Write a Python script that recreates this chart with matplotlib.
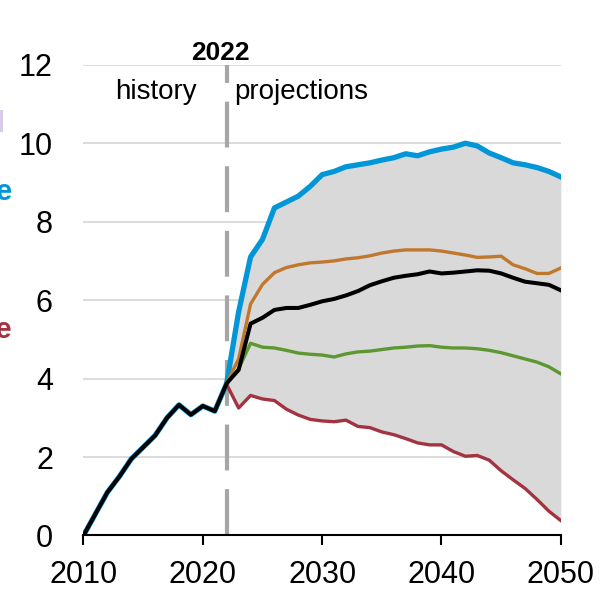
import numpy as np
import matplotlib.pyplot as plt
from matplotlib.patches import Rectangle

plt.rcParams['font.family'] = ['Liberation Sans', 'DejaVu Sans']

# history (also the start of every case)
hist_years = list(range(2010, 2023))
hist_vals = [0.0, 0.55, 1.1, 1.5, 1.95, 2.25, 2.55, 3.0, 3.33, 3.08, 3.3, 3.17, 3.88]

proj_years = list(range(2022, 2051))
high_case = [3.9, 5.7, 7.1, 7.55, 8.35, 8.5, 8.65, 8.9, 9.2, 9.28, 9.4, 9.45, 9.5, 9.57,
             9.63, 9.73, 9.68, 9.78, 9.85, 9.9, 10.0, 9.93, 9.75, 9.63, 9.5, 9.45, 9.38,
             9.28, 9.14]
orange_case = [3.9, 4.5, 5.9, 6.4, 6.7, 6.83, 6.9, 6.95, 6.97, 7.0, 7.05, 7.08, 7.13, 7.2,
               7.25, 7.28, 7.28, 7.28, 7.25, 7.2, 7.15, 7.09, 7.1, 7.12, 6.9, 6.8, 6.68,
               6.68, 6.82]
reference = [3.88, 4.22, 5.4, 5.55, 5.75, 5.8, 5.8, 5.88, 5.97, 6.03, 6.12, 6.23, 6.38, 6.48,
             6.57, 6.62, 6.66, 6.73, 6.68, 6.7, 6.73, 6.76, 6.75, 6.68, 6.57, 6.47, 6.43,
             6.39, 6.25]
green_case = [3.9, 4.25, 4.9, 4.8, 4.78, 4.72, 4.65, 4.62, 4.6, 4.55, 4.63, 4.68, 4.7, 4.74,
              4.78, 4.8, 4.83, 4.84, 4.8, 4.78, 4.78, 4.76, 4.72, 4.66, 4.58, 4.5, 4.42,
              4.3, 4.12]
low_case = [3.85, 3.25, 3.57, 3.48, 3.44, 3.22, 3.07, 2.96, 2.92, 2.9, 2.94, 2.78, 2.75, 2.64,
            2.57, 2.47, 2.36, 2.31, 2.31, 2.14, 2.02, 2.04, 1.92, 1.65, 1.42, 1.2, 0.92,
            0.62, 0.38]

blue = '#0096d7'
orange = '#c0782e'
green = '#5d9732'
red = '#a33340'

fig = plt.figure(figsize=(6.05, 5.94), dpi=100)
ax = fig.add_axes([0.138, 0.0985, 0.789, 0.7925])

# shaded range of projections
ax.fill_between(proj_years, low_case, high_case, color='#d9d9d9', lw=0, zorder=1)

ax.plot(hist_years + proj_years[1:], hist_vals + high_case[1:], color=blue, lw=3.8, zorder=3,
        solid_joinstyle='round')
ax.plot(proj_years, orange_case, color=orange, lw=2.4, zorder=3)
ax.plot(proj_years, green_case, color=green, lw=2.4, zorder=3)
ax.plot(proj_years, low_case, color=red, lw=2.4, zorder=3)
ax.plot(hist_years + proj_years[1:], hist_vals + reference[1:], color='black', lw=2.9,
        zorder=4)

# history / projections divider
ax.axvline(2022, color='#a6a6a6', lw=3, dashes=(11, 4.5), zorder=2)
ax.text(2021.5, 12.0, '2022', ha='center', va='bottom', fontsize=19, fontweight='bold')
ax.text(2019.5, 11.3, 'history', ha='right', va='center', fontsize=20)
ax.text(2022.6, 11.3, 'projections', ha='left', va='center', fontsize=20)

ax.set_xlim(2010, 2050)
ax.set_ylim(0, 12)
ax.set_xticks([2010, 2020, 2030, 2040, 2050])
ax.set_yticks(range(0, 13, 2))
ax.yaxis.grid(True, color='#d9d9d9', lw=1.3, zorder=0)
ax.set_axisbelow(True)
for s in ['left', 'right', 'top']:
    ax.spines[s].set_visible(False)
ax.spines['bottom'].set_linewidth(1.5)
ax.spines['bottom'].set_zorder(5)
ax.tick_params(axis='x', length=7, width=1.5, labelsize=22, pad=11)
ax.tick_params(axis='y', length=0, labelsize=22, pad=22)

# labels of a legend that sits left of the crop
fig.text(12 / 605, 1 - 192 / 594, 'High Oil Price', color=blue, fontsize=21,
         fontweight='bold', ha='right', va='center')
fig.text(12 / 605, 1 - 330 / 594, 'Low Oil Price', color=red, fontsize=21,
         fontweight='bold', ha='right', va='center')
fig.patches.append(Rectangle((-20 / 605, 1 - 132 / 594), 23 / 605, 22 / 594,
                             transform=fig.transFigure, color='#d8cbe8', lw=0))

fig.savefig('out.png', dpi=100)
